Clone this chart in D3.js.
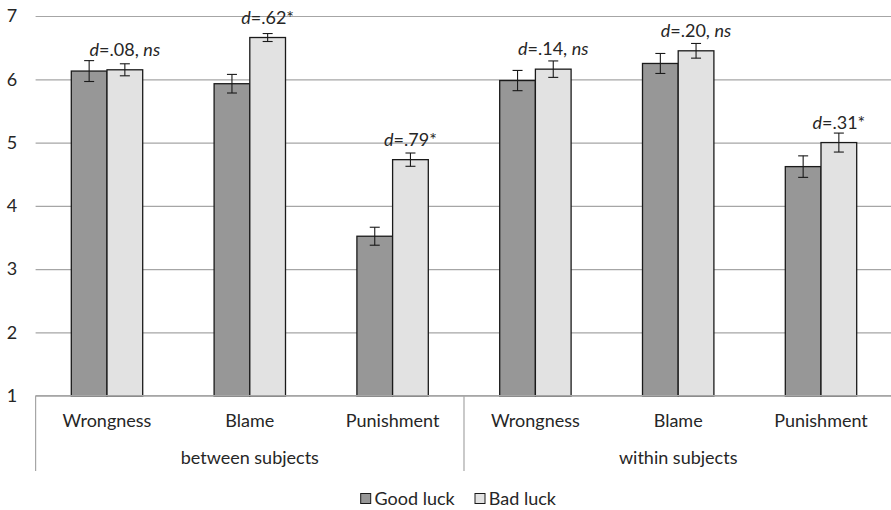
<!DOCTYPE html>
<html>
<head>
<meta charset="utf-8">
<script src="https://cdn.jsdelivr.net/npm/d3@7"></script>
<style>
  html, body { margin: 0; padding: 0; background: #fff; }
  svg { display: block; font-family: Lato, "Open Sans", sans-serif; }
</style>
</head>
<body>
<svg id="chart" width="891" height="510"></svg>
<script>
// Mean ratings (1–7) by outcome luck, for each measure and design
const groups = ["between subjects", "within subjects"];
const measures = ["Wrongness", "Blame", "Punishment"];
const seriesNames = ["Good luck", "Bad luck"];
const goodLuck = [6.13, 5.93, 3.52, 5.98, 6.25, 4.62];
const badLuck  = [6.15, 6.66, 4.73, 6.16, 6.45, 5.00];
const goodErr  = [0.165, 0.147, 0.142, 0.16, 0.158, 0.17];
const badErr   = [0.095, 0.063, 0.105, 0.13, 0.116, 0.15];
const effectD  = [".08", ".62", ".79", ".14", ".20", ".31"];
const effectSig = ["ns", "*", "*", "ns", "ns", "*"];
const yTicks = [1, 2, 3, 4, 5, 6, 7];

const colors = { "Good luck": "#979797", "Bad luck": "#e2e2e2" };
const fontSize = 18;

// one row per bar slot
const cells = [];
groups.forEach((g, gi) => measures.forEach((m, mi) => {
  const i = gi * measures.length + mi;
  cells.push({
    key: g + "|" + m, group: g, measure: m, i,
    bars: [
      { series: "Good luck", value: goodLuck[i], err: goodErr[i] },
      { series: "Bad luck",  value: badLuck[i],  err: badErr[i] }
    ],
    d: effectD[i], sig: effectSig[i]
  });
}));

const svg = d3.select("#chart");
const plotLeft = 35.6, plotRight = 892.4, plotTop = 16, plotBottom = 395.7;

const x0 = d3.scaleBand().domain(cells.map(c => c.key)).range([plotLeft, plotRight]).padding(0);
const bw = x0.bandwidth();
const x1 = d3.scaleBand().domain(seriesNames).range([bw * 0.25, bw * 0.75]).padding(0);
const y = d3.scaleLinear().domain([1, 7]).range([plotBottom, plotTop]);

// horizontal gridlines + y tick labels
const yAxis = d3.axisLeft(y).tickValues(yTicks).tickFormat(d3.format("d"))
  .tickSizeInner(-(891 - plotLeft)).tickSizeOuter(0).tickPadding(18.5);
const ya = svg.append("g").attr("transform", `translate(${plotLeft},0)`).call(yAxis);
ya.select(".domain").remove();
ya.selectAll(".tick line").attr("stroke", "#a6a6a6").attr("stroke-width", 1.2);
ya.selectAll(".tick text").attr("font-size", fontSize).attr("fill", "#262626")
  .attr("font-family", "Lato, sans-serif");

// bars
const cg = svg.append("g").selectAll("g").data(cells).join("g")
  .attr("transform", d => `translate(${x0(d.key)},0)`);

cg.selectAll("rect").data(d => d.bars).join("rect")
  .attr("x", b => x1(b.series))
  .attr("y", b => y(b.value))
  .attr("width", x1.bandwidth())
  .attr("height", b => y(1) - y(b.value))
  .attr("fill", b => colors[b.series])
  .attr("stroke", "#1a1a1a").attr("stroke-width", 1.3);

// error bars
const eb = cg.selectAll("g.err").data(d => d.bars).join("g").attr("class", "err")
  .attr("stroke", "#1a1a1a").attr("stroke-width", 1.1);
eb.append("line")
  .attr("x1", b => x1(b.series) + x1.bandwidth() / 2)
  .attr("x2", b => x1(b.series) + x1.bandwidth() / 2)
  .attr("y1", b => y(b.value + b.err)).attr("y2", b => y(b.value - b.err));
[1, -1].forEach(s => eb.append("line")
  .attr("x1", b => x1(b.series) + x1.bandwidth() / 2 - 5)
  .attr("x2", b => x1(b.series) + x1.bandwidth() / 2 + 5)
  .attr("y1", b => y(b.value + s * b.err)).attr("y2", b => y(b.value + s * b.err)));

// effect-size labels above the bad-luck bar
const lbl = cg.append("text")
  .attr("x", x1("Bad luck") + x1.bandwidth() / 2)
  .attr("y", d => y(d.bars[1].value) - 14)
  .attr("text-anchor", "middle").attr("font-size", fontSize).attr("fill", "#262626");
lbl.append("tspan").attr("font-style", "italic").text("d");
lbl.append("tspan").text(d => "=" + d.d + (d.sig === "ns" ? ", " : "*"));
lbl.filter(d => d.sig === "ns").append("tspan").attr("font-style", "italic").text("ns");

// category axis
const axisG = svg.append("g").attr("stroke", "#a6a6a6").attr("stroke-width", 1.2);
axisG.append("line").attr("x1", plotLeft).attr("x2", 891).attr("y1", y(1)).attr("y2", y(1));
const dividers = [plotLeft, x0(cells[measures.length].key), plotRight];
axisG.selectAll("line.div").data(dividers).join("line").attr("class", "div")
  .attr("x1", d => d).attr("x2", d => d).attr("y1", y(1)).attr("y2", 471);

svg.append("g").selectAll("text").data(cells).join("text")
  .attr("x", d => x0(d.key) + bw / 2).attr("y", 427)
  .attr("text-anchor", "middle").attr("font-size", fontSize).attr("fill", "#262626")
  .text(d => d.measure);

svg.append("g").selectAll("text").data(groups).join("text")
  .attr("x", (g, gi) => x0(cells[gi * measures.length].key) + bw * measures.length / 2)
  .attr("y", 464)
  .attr("text-anchor", "middle").attr("font-size", fontSize).attr("fill", "#262626")
  .text(g => g);

// legend
const legendX = [360.7, 475];
const lg = svg.append("g").selectAll("g").data(seriesNames).join("g")
  .attr("transform", (s, i) => `translate(${legendX[i]},0)`);
lg.append("rect").attr("x", 0).attr("y", 493.5).attr("width", 10).attr("height", 10)
  .attr("fill", s => colors[s]).attr("stroke", "#1a1a1a").attr("stroke-width", 1);
lg.append("text").attr("x", 13.8).attr("y", 505)
  .attr("font-size", fontSize).attr("fill", "#262626").text(s => s);
</script>
</body>
</html>
